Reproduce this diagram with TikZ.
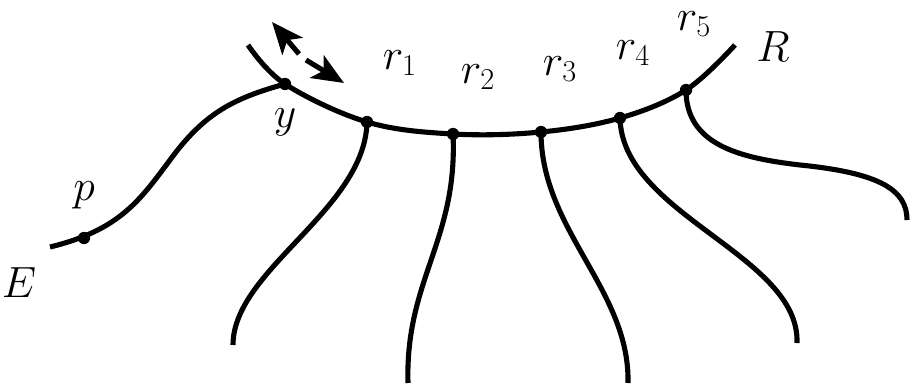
\documentclass[tikz,border=0pt]{standalone}
\usetikzlibrary{arrows.meta}
\begin{document}
\begin{tikzpicture}[x=0.02cm,y=-0.02cm,
  curve/.style={line width=2.9pt,line cap=butt},
  dot/.style={circle,fill=black,inner sep=0pt,minimum size=7pt},
  lab/.style={font=\fontsize{27}{31}\selectfont,inner sep=0.5pt},
  arr/.style={line width=2.9pt,-{Stealth[length=18pt,width=15pt,inset=4.5pt]}}]
\useasboundingbox (0,0) rectangle (912,388);
% points on R
\coordinate (Rs) at (248,45);
\coordinate (y) at (285,84);
\coordinate (r1) at (367,122);
\coordinate (r2) at (453,134);
\coordinate (r3) at (541,132);
\coordinate (r4) at (620,118);
\coordinate (r5) at (686,90);
\coordinate (Re) at (735,45);
\coordinate (Es) at (50,247);
\coordinate (p) at (84,238);
% curve R
\draw[curve] plot[smooth,tension=0.6] coordinates {(Rs) (y) (r1) (r2) (r3) (r4) (r5) (Re)};
% curve E
\draw[curve] (Es) .. controls (120,230) and (140,200) .. (170,160)
  .. controls (205,112) and (235,98) .. (y);
% strands
\draw[curve] (r1) .. controls (365,210) and (233,270) .. (233,345);
\draw[curve] (r2) .. controls (458,240) and (405,280) .. (408,383);
\draw[curve] (r3) .. controls (541,230) and (630,290) .. (628,383);
\draw[curve] (r4) .. controls (622,215) and (800,255) .. (797,343);
\draw[curve] (r5) .. controls (686,145) and (740,158) .. (800,165)
  .. controls (880,173) and (907,190) .. (907,220);
% dots
\foreach \c in {y,r1,r2,r3,r4,r5,p} \node[dot] (d\c) at (\c) {};
% arrows
\coordinate (a1s) at (299,54);
\coordinate (a1e) at (272,22);
\coordinate (a2s) at (306,60);
\coordinate (a2e) at (344,83);
\draw[arr] (a1s) -- (a1e);
\draw[arr] (a2s) -- (a2e);
% labels
\node[lab] (ly) at (285,122) {$y$};
\node[lab] (lp) at (84,195) {$p$};
\node[lab] (lE) at (19,283) {$E$};
\node[lab] (lR) at (773,47) {$R$};
\node[lab] (l1) at (400,63) {$r_1$};
\node[lab] (l2) at (478,77) {$r_2$};
\node[lab] (l3) at (560,69) {$r_3$};
\node[lab] (l4) at (633,53) {$r_4$};
\node[lab] (l5) at (694,24) {$r_5$};
\end{tikzpicture}
\end{document}
